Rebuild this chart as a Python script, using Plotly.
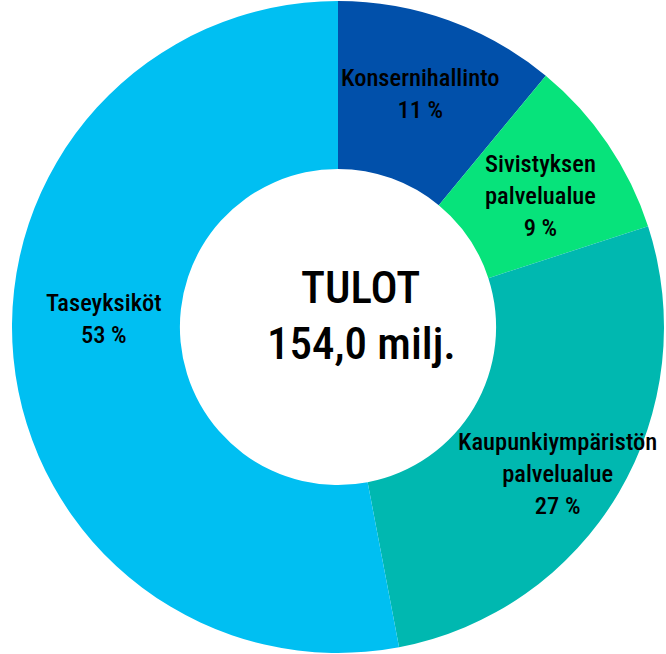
import plotly.graph_objects as go

# ---- data ----
labels = ["Konsernihallinto", "Sivistyksen<br>palvelualue", "Kaupunkiympäristön<br>palvelualue", "Taseyksiköt"]
values = [11, 9, 27, 53]
pct_text = ["11 %", "9 %", "27 %", "53 %"]
center_title = "TULOT"
center_total = "154,0 milj."

# ---- styling / layout ----
colors = ["#0150AA", "#07E37B", "#00B8B0", "#00BFF2"]
label_pos_px = [(420, 93), (540, 195), (557, 473), (104, 318)]  # label block centres (pixels)
W, H = 666, 654
FONT = "Roboto Condensed, Arial Narrow, Liberation Sans Narrow, Roboto, sans-serif"

fig = go.Figure(go.Pie(
    labels=labels,
    values=values,
    text=pct_text,
    textinfo="none",
    sort=False,
    direction="clockwise",
    rotation=0,
    hole=0.485,
    marker=dict(colors=colors, line=dict(width=0)),
    domain=dict(x=[12 / W, 664 / W], y=[0, 1]),
    showlegend=False,
    hoverinfo="label+percent",
))

for lab, pct, (px, py) in zip(labels, pct_text, label_pos_px):
    fig.add_annotation(text=f"{lab}<br>{pct}", x=px / W, y=1 - py / H,
                       xref="paper", yref="paper", xanchor="center", yanchor="middle",
                       showarrow=False, align="center",
                       font=dict(family=FONT, size=24.5, color="black", weight=500))

fig.add_annotation(text=center_title, x=360 / W, y=1 - 287 / H, xref="paper", yref="paper",
                   showarrow=False, font=dict(family=FONT, size=45, color="black", weight=500))
fig.add_annotation(text=center_total, x=361 / W, y=1 - 343 / H, xref="paper", yref="paper",
                   showarrow=False, font=dict(family=FONT, size=45, color="black", weight=500))

fig.update_layout(
    width=W, height=H,
    margin=dict(l=0, r=0, t=0, b=0),
    paper_bgcolor="white",
    plot_bgcolor="white",
)

fig.write_html("out.html", config={"displayModeBar": False},
               post_script="document.body.style.margin='0px';document.body.style.overflow='hidden';")
